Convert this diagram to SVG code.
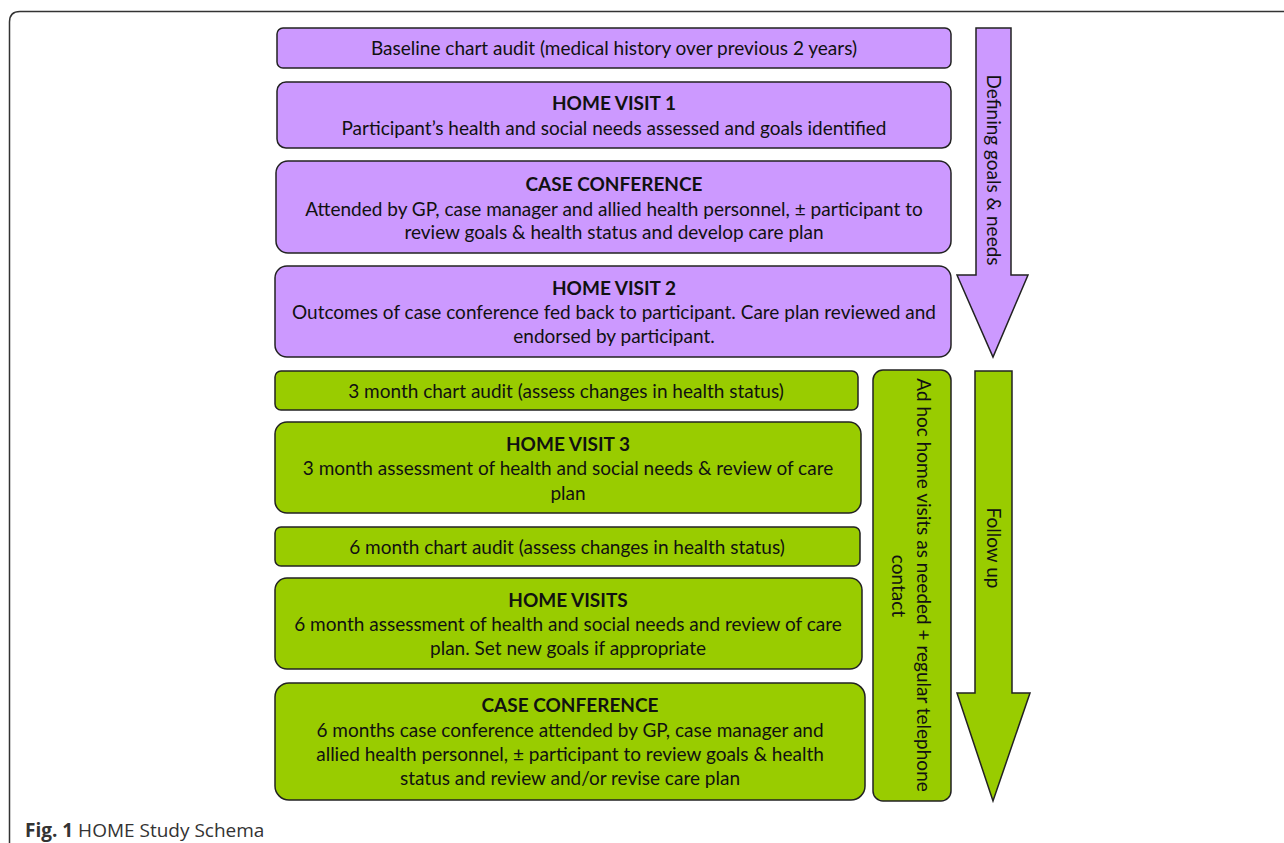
<svg xmlns="http://www.w3.org/2000/svg" width="1284" height="843" viewBox="0 0 1284 843">
<style>
.p{fill:#CC99FF;stroke:#222;stroke-width:1.5}
.g{fill:#99CC00;stroke:#222;stroke-width:1.5}
text{font-family:Lato,"Liberation Sans",sans-serif;font-size:19px;fill:#111;text-anchor:middle}
.b{font-weight:bold}
.cap{font-family:"Open Sans","Liberation Sans",sans-serif;font-size:19px;fill:#333;text-anchor:start}
</style>
<rect width="1284" height="843" fill="#fff"/>
<path d="M9.5,843 V22 Q9.5,11.5 20,11.5 H1284" fill="none" stroke="#333" stroke-width="1.5"/>
<g id="connectors">
<g id="arrow-defining">
<path class="p" d="M976,28 H1011 V275 H1028 L993,357 L957,275 H976 Z"/>
<text transform="translate(987,170) rotate(90)">Defining goals &amp; needs</text>
</g>
<g id="arrow-follow">
<path class="g" d="M975,371 H1012 V693 H1030 L993,801 L957,693 H975 Z"/>
<text transform="translate(987,548) rotate(90)">Follow up</text>
</g>
</g>
<g id="n1"><rect class="p" x="277" y="28" width="674" height="40" rx="6"/>
<text x="614" y="55">Baseline chart audit (medical history over previous 2 years)</text></g>
<g id="n2"><rect class="p" x="277" y="82" width="674" height="66" rx="9"/>
<text class="b" x="614" y="110">HOME VISIT 1</text>
<text x="614" y="135">Participant’s health and social needs assessed and goals identified</text></g>
<g id="n3"><rect class="p" x="276" y="161" width="675" height="92" rx="12"/>
<text class="b" x="614" y="191">CASE CONFERENCE</text>
<text x="614" y="216">Attended by GP, case manager and allied health personnel, ± participant to</text>
<text x="614" y="239">review goals &amp; health status and develop care plan</text></g>
<g id="n4"><rect class="p" x="275" y="266" width="676" height="91" rx="12"/>
<text class="b" x="614" y="295">HOME VISIT 2</text>
<text x="614" y="319">Outcomes of case conference fed back to participant. Care plan reviewed and</text>
<text x="614" y="343">endorsed by participant.</text></g>
<g id="n5"><rect class="g" x="275" y="371" width="583" height="39" rx="6"/>
<text x="566" y="398">3 month chart audit (assess changes in health status)</text></g>
<g id="n6"><rect class="g" x="275" y="422" width="586" height="91" rx="12"/>
<text class="b" x="568" y="451">HOME VISIT 3</text>
<text x="568" y="475">3 month assessment of health and social needs &amp; review of care</text>
<text x="568" y="500">plan</text></g>
<g id="n7"><rect class="g" x="275" y="527" width="585" height="39" rx="6"/>
<text x="567" y="554">6 month chart audit (assess changes in health status)</text></g>
<g id="n8"><rect class="g" x="275" y="578" width="587" height="91" rx="12"/>
<text class="b" x="568" y="607">HOME VISITS</text>
<text x="568" y="631">6 month assessment of health and social needs and review of care</text>
<text x="568" y="655">plan. Set new goals if appropriate</text></g>
<g id="n9"><rect class="g" x="275" y="683" width="590" height="117" rx="14"/>
<text class="b" x="570" y="712">CASE CONFERENCE</text>
<text x="570" y="737">6 months case conference attended by GP, case manager and</text>
<text x="570" y="761">allied health personnel, ± participant to review goals &amp; health</text>
<text x="570" y="785">status and review and/or revise care plan</text></g>
<g id="n10"><rect class="g" x="873" y="370" width="78" height="431" rx="10"/>
<text transform="translate(917,585) rotate(90)">Ad hoc home visits as needed + regular telephone</text>
<text transform="translate(892,586) rotate(90)">contact</text></g>
<text class="cap" x="25" y="837"><tspan font-weight="bold">Fig. 1</tspan> HOME Study Schema</text>
</svg>
